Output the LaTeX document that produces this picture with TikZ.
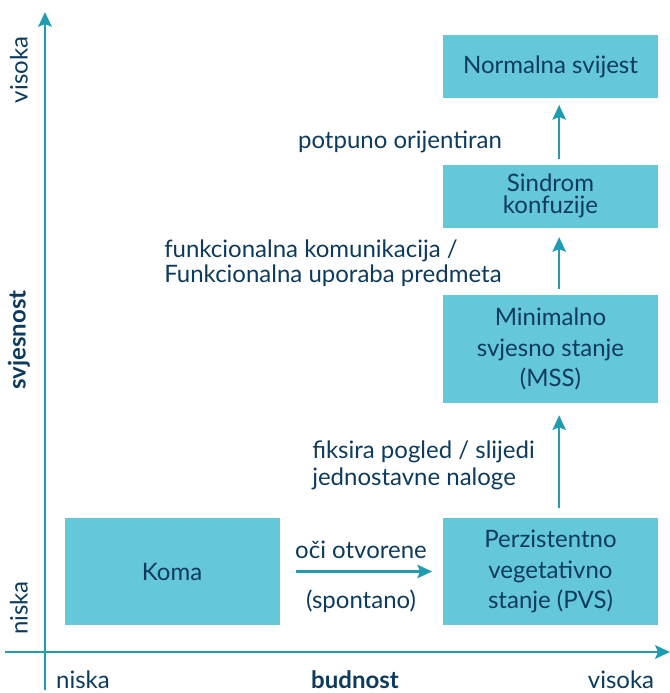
\documentclass[tikz,border=0pt]{standalone}
\usepackage{fontspec}
\setmainfont{Lato}
\usetikzlibrary{arrows.meta}

\definecolor{axisteal}{HTML}{1E9DB2}
\definecolor{statefill}{HTML}{64C8D9}
\definecolor{textnavy}{HTML}{0D3B5E}

\tikzset{
    state/.style={fill=statefill, text=textnavy, align=center, inner sep=0pt,
        minimum width=161.25pt, font=\fontsize{18}{23}\selectfont},
    lbl/.style={text=textnavy, inner sep=0pt, font=\fontsize{18}{19}\selectfont},
    axis/.style={axisteal, line width=2.2pt, -{Stealth[length=11pt, width=10pt, inset=2pt]}},
    flow/.style={axisteal, line width=1.9pt, -{Stealth[length=11pt, width=10pt, inset=2pt]}},
}

\begin{document}
\begin{tikzpicture}[x=0.75pt, y=-0.75pt]
        \useasboundingbox (0,0) rectangle (670,693);
        % axes
        \coordinate (ybot) at (45,690);
        \coordinate (ytop) at (45,12);
        \coordinate (xleft) at (5,652);
        \coordinate (xright) at (670,652);
        \draw [axis] (ybot) -- (ytop);
        \draw [axis] (xleft) -- (xright);
        \node [lbl, rotate=90] (yhigh) at (19,70) {visoka};
        \node [lbl, rotate=90, font=\fontsize{18}{19}\selectfont\bfseries] (yname) at (19,340) {svjesnost};
        \node [lbl, rotate=90] (ylow) at (19,608) {niska};
        \node [lbl, anchor=base] (xlow) at (83,688) {niska};
        \node [lbl, anchor=base, font=\fontsize{18}{19}\selectfont\bfseries] (xname) at (355,688) {budnost};
        \node [lbl, anchor=base] (xhigh) at (621,688) {visoka};
        % states
        \node [state, minimum height=80.25pt] (koma) at (172,571.5) {Koma};
        \node [state, minimum height=80.25pt] (pvs) at (550.5,571.5) {Perzistentno\\vegetativno\\stanje (PVS)};
        \node [state, minimum height=81pt] (mss) at (550.5,349) {Minimalno\\svjesno stanje\\(MSS)};
        \node [state, minimum height=47.25pt, font=\fontsize{18}{16}\selectfont] (sindrom) at (550.5,196) {Sindrom\\konfuzije};
        \node [state, minimum height=47.25pt] (normalna) at (550.5,66.5) {Normalna svijest};
        % transitions
        \draw [flow, shorten <=12pt, shorten >=8pt] (koma) -- (pvs);
        \draw [flow, shorten <=7pt, shorten >=9pt] ([xshift=6.5pt]pvs.north) -- ([xshift=6.5pt]mss.south);
        \draw [flow, shorten <=4pt, shorten >=7pt] ([xshift=6.5pt]mss.north) -- ([xshift=6.5pt]sindrom.south);
        \draw [flow, shorten <=4pt, shorten >=5pt] ([xshift=6.5pt]sindrom.north) -- ([xshift=6.5pt]normalna.south);
        \node [lbl, anchor=base] (oci) at (361,558) {oči otvorene};
        \node [lbl, anchor=base] (spontano) at (361,608) {(spontano)};
        \node [lbl, anchor=base west, align=left, font=\fontsize{18}{20.25}\selectfont] (fiksira) at (312,485) {fiksira pogled / slijedi\\jednostavne naloge};
        \node [lbl, anchor=base west, align=left, font=\fontsize{18}{18.75}\selectfont] (komunikacija) at (164,282) {funkcionalna komunikacija /\\Funkcionalna uporaba predmeta};
        \node [lbl, anchor=base] (orijentiran) at (400,148) {potpuno orijentiran};
\end{tikzpicture}
\end{document}
